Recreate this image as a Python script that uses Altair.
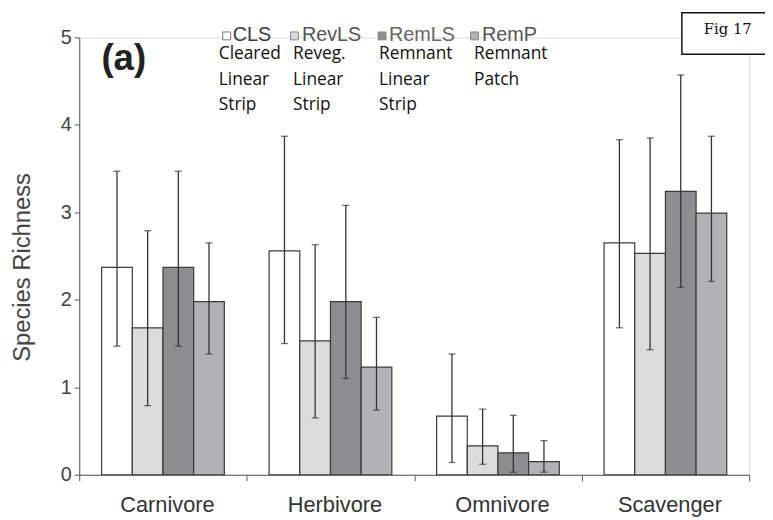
import altair as alt
import pandas as pd

categories = ["Carnivore", "Herbivore", "Omnivore", "Scavenger"]
groups = ["CLS", "RevLS", "RemLS", "RemP"]
group_desc = ["Cleared\nLinear\nStrip", "Reveg.\nLinear\nStrip", "Remnant\nLinear\nStrip", "Remnant\nPatch"]

mean_cls = [2.37, 2.56, 0.67, 2.65]
mean_revls = [1.68, 1.53, 0.33, 2.53]
mean_remls = [2.37, 1.98, 0.25, 3.24]
mean_remp = [1.98, 1.23, 0.15, 2.99]

upper_cls = [3.47, 3.87, 1.38, 3.83]
upper_revls = [2.79, 2.63, 0.75, 3.85]
upper_remls = [3.47, 3.08, 0.68, 4.57]
upper_remp = [2.65, 1.80, 0.39, 3.87]

lower_cls = [1.47, 1.50, 0.14, 1.68]
lower_revls = [0.79, 0.65, 0.12, 1.43]
lower_remls = [1.47, 1.10, 0.03, 2.14]
lower_remp = [1.38, 0.74, 0.03, 2.21]

y_ticks = [0, 1, 2, 3, 4, 5]

means = [mean_cls, mean_revls, mean_remls, mean_remp]
uppers = [upper_cls, upper_revls, upper_remls, upper_remp]
lowers = [lower_cls, lower_revls, lower_remls, lower_remp]

rows = []
for gi, g in enumerate(groups):
    for ci, c in enumerate(categories):
        rows.append({"category": c, "group": g, "mean": means[gi][ci],
                     "upper": uppers[gi][ci], "lower": lowers[gi][ci]})
df = pd.DataFrame(rows)

bar_colors = ["#ffffff", "#dcdcdc", "#8e8e90", "#b2b2b4"]

x_enc = alt.X("category:N", sort=categories,
              scale=alt.Scale(paddingInner=0, paddingOuter=0),
              axis=alt.Axis(title=None, labelAngle=0, labelFont="Liberation Sans",
                            labelFontSize=22, labelColor="#333333", domainColor="#555555",
                            tickColor="#555555", tickSize=6, tickBand="extent",
                            labelPadding=14, labelOffset=4, grid=False))
xo_enc = alt.XOffset("group:N", sort=groups,
                     scale=alt.Scale(paddingInner=0, paddingOuter=0.73))

base = alt.Chart(df).encode(x=x_enc, xOffset=xo_enc)

bars = base.mark_bar(stroke="#3a3a3a", strokeWidth=1.2).encode(
    y=alt.Y("mean:Q", scale=alt.Scale(domain=[0, 5]),
            axis=alt.Axis(values=y_ticks, format="d", title="Species Richness",
                          labelFont="Liberation Sans",
                          labelFontSize=20, labelColor="#444444", labelPadding=3,
                          tickSize=5, tickColor="#555555", domainColor="#555555", grid=False,
                          titleFont="Liberation Sans", titleFontSize=24, titleFontWeight="normal",
                          titleColor="#444444", titleX=-57, titleY=232, titleAlign="center",
                          titleBaseline="middle", titleAngle=-90)),
    color=alt.Color("group:N", scale=alt.Scale(domain=groups, range=bar_colors), legend=None),
)

err = base.mark_rule(color="#333333", strokeWidth=1.3).encode(y="lower:Q", y2="upper:Q")
cap_hi = base.mark_tick(color="#333333", thickness=1.3, size=7).encode(y="upper:Q")
cap_lo = base.mark_tick(color="#333333", thickness=1.3, size=7).encode(y="lower:Q")

leg_df = pd.DataFrame({"group": groups, "desc": group_desc})

layers = [bars, err, cap_hi, cap_lo]

sq_x = [149, 217.5, 306, 399.5]
head_x = [155, 225, 313, 407]
desc_x = [141, 216, 303, 399]
sq_stroke = ["#777777", "#888888", "#8e8e90", "#888888"]
head_col = ["#3a3a3a", "#555555", "#666666", "#555555"]
for i, g in enumerate(groups):
    d = leg_df[leg_df.group == g]
    layers.append(alt.Chart(d).mark_square(size=64, fill=bar_colors[i], stroke=sq_stroke[i],
                                           strokeWidth=1, opacity=1).encode(
        x=alt.value(sq_x[i]), y=alt.value(-1.5)))
    layers.append(alt.Chart(d).mark_text(align="left", baseline="alphabetic",
                                         font="Liberation Sans", fontSize=20,
                                         color=head_col[i]).encode(
        x=alt.value(head_x[i]), y=alt.value(3.5), text="group:N"))
    layers.append(alt.Chart(d).mark_text(align="left", baseline="alphabetic",
                                         font="Open Sans", fontSize=17.5, lineBreak="\n",
                                         lineHeight=25.5, color="#111111").encode(
        x=alt.value(desc_x[i]), y=alt.value(22.2), text="desc:N"))

ann_df = pd.DataFrame({"panel": ["(a)"], "fig": ["Fig 17"]})
panel = alt.Chart(ann_df).mark_text(align="center", baseline="alphabetic", font="Liberation Sans",
                                    fontSize=37, fontWeight="bold", color="#222222").encode(
    x=alt.value(45), y=alt.value(33), text="panel:N")
box = alt.Chart(ann_df).mark_rect(fill="white", stroke="#111111", strokeWidth=1.5).encode(
    x=alt.value(609), x2=alt.value(709), y=alt.value(-25), y2=alt.value(17))
fig = alt.Chart(ann_df).mark_text(align="left", baseline="alphabetic", font="DejaVu Serif",
                                  fontSize=15, color="#111111").encode(
    x=alt.value(631), y=alt.value(-3), text="fig:N")
layers += [panel, box, fig]

chart = alt.layer(*layers).properties(
    width=677, height=442,
    autosize=alt.AutoSizeParams(type="none"),
    padding={"left": 72, "top": 27, "right": 16, "bottom": 41},
).configure_view(stroke=None).configure(background="white")

chart.save("out.html", embed_options={"renderer": "svg", "actions": False})
